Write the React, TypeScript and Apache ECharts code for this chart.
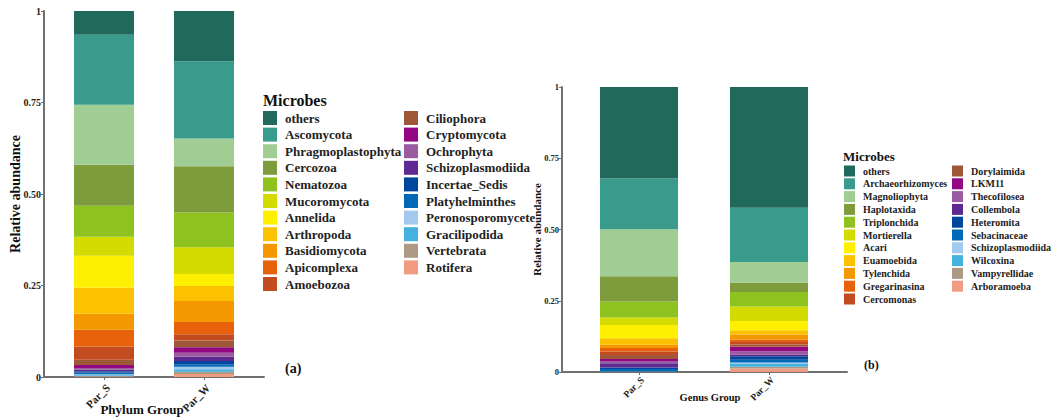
import React, { useEffect, useRef } from "react";
import * as echarts from "echarts";

const groups = ["Par_S", "Par_W"];

const phylumNames = [
  "others", "Ascomycota", "Phragmoplastophyta", "Cercozoa", "Nematozoa", "Mucoromycota",
  "Annelida", "Arthropoda", "Basidiomycota", "Apicomplexa", "Amoebozoa",
  "Ciliophora", "Cryptomycota", "Ochrophyta", "Schizoplasmodiida", "Incertae_Sedis",
  "Platyhelminthes", "Peronosporomycete", "Gracilipodida", "Vertebrata", "Rotifera",
];
const phylumParS = [
  0.066, 0.191, 0.164, 0.112, 0.085, 0.052, 0.087, 0.071, 0.044, 0.046, 0.036,
  0.0145, 0.008, 0.005, 0.0035, 0.004, 0.0045, 0.002, 0.002, 0.002, 0.0015,
];
const phylumParW = [
  0.139, 0.211, 0.076, 0.126, 0.095, 0.073, 0.033, 0.041, 0.057, 0.034, 0.017,
  0.018, 0.015, 0.011, 0.012, 0.009, 0.0066, 0.007, 0.0066, 0.0063, 0.008,
];

const genusNames = [
  "others", "Archaeorhizomyces", "Magnoliophyta", "Haplotaxida", "Triplonchida", "Mortierella",
  "Acari", "Euamoebida", "Tylenchida", "Gregarinasina", "Cercomonas",
  "Dorylaimida", "LKM11", "Thecofilosea", "Collembola", "Heteromita",
  "Sebacinaceae", "Schizoplasmodiida", "Wilcoxina", "Vampyrellidae", "Arboramoeba",
];
const genusParS = [
  0.321, 0.178, 0.165, 0.089, 0.056, 0.026, 0.047, 0.022, 0.012, 0.012, 0.012,
  0.014, 0.007, 0.008, 0.015, 0.0056, 0.0084, 0.0005, 0.0005, 0.0005, 0.0005,
];
const genusParW = [
  0.426, 0.191, 0.072, 0.033, 0.051, 0.051, 0.032, 0.015, 0.018, 0.008, 0.0095,
  0.008, 0.015, 0.012, 0.006, 0.012, 0.0095, 0.0056, 0.0095, 0.006, 0.0126,
];

const palette = [
  "#20695c", "#389b8b", "#9fcd93", "#7f9c3d", "#8dc21f", "#d3db00",
  "#ffef00", "#fcc100", "#f39800", "#e7620a", "#c24c20",
  "#9f573a", "#930783", "#9a5ba0", "#5e2a91", "#00469c",
  "#0068b7", "#a3c9ee", "#45b1de", "#ac9a84", "#f19c82",
];

const yTicks = ["0", "0.25", "0.50", "0.75", "1"];

const FONT = "Liberation Serif";
const AXIS_COLOR = "#707070";

function buildSeries(names: string[], s: number[], w: number[], stack: string, axis: number, barWidth: number) {
  const out: any[] = [];
  for (let i = names.length - 1; i >= 0; i--) {
    out.push({
      type: "bar",
      name: names[i],
      stack,
      xAxisIndex: axis,
      yAxisIndex: axis,
      barWidth,
      itemStyle: { color: palette[i] },
      data: [s[i], w[i]],
    });
  }
  return out;
}

function legendData(names: string[], from: number, to: number) {
  return names.slice(from, to).map((n, k) => ({ name: n, itemStyle: { color: palette[from + k] } }));
}

function tickFmt(v: number) {
  return yTicks[Math.round(v * 4)] ?? "";
}

export default function App() {
  const ref = useRef<HTMLDivElement>(null);
  useEffect(() => {
    document.body.style.margin = "0";
    if (!ref.current) return;
    const chart = echarts.init(ref.current, undefined, { renderer: "svg" });
    const frameX = (grid: number) => ({
      type: "value", gridIndex: grid, min: 0, max: 1,
      axisLine: { show: true, lineStyle: { color: AXIS_COLOR, width: 2 } },
      axisTick: { show: false }, axisLabel: { show: false }, splitLine: { show: false },
    });
    const frameY = (grid: number) => ({
      type: "value", gridIndex: grid, min: 0, max: 1,
      axisLine: { show: false }, axisTick: { show: false }, axisLabel: { show: false }, splitLine: { show: false },
    });
    const barY = (grid: number, offset: number, fs: number, nameFs: number, nameGap: number) => ({
      type: "value", gridIndex: grid, min: 0, max: 1, interval: 0.25, offset,
      name: "Relative abundance", nameLocation: "middle", nameGap, nameMoveOverlap: false,
      nameTextStyle: { fontFamily: FONT, fontWeight: "bold", fontSize: nameFs, color: "#111" },
      axisLine: { show: true, lineStyle: { color: AXIS_COLOR, width: 2 } },
      axisTick: { show: true, length: 3, lineStyle: { color: AXIS_COLOR } },
      axisLabel: { formatter: tickFmt, margin: 3, fontFamily: FONT, fontWeight: "bold", fontSize: fs, color: "#222" },
      splitLine: { show: false },
    });
    const catX = (grid: number, name: string, fs: number, nameFs: number, nameGap: number, namePad: number[], margin: number) => ({
      type: "category", gridIndex: grid, data: groups,
      name, nameLocation: "middle", nameGap, nameMoveOverlap: false,
      nameTextStyle: { fontFamily: FONT, fontWeight: "bold", fontSize: nameFs, color: "#111", padding: namePad },
      axisLine: { show: false, onZero: false },
      axisTick: { show: true, alignWithLabel: true, length: 3, lineStyle: { color: AXIS_COLOR } },
      axisLabel: {
        rotate: 45, margin, align: "right", verticalAlign: "top",
        fontFamily: FONT, fontWeight: "bold", fontSize: fs, color: "#222",
      },
    });
    const legend = (left: number, top: number, data: any[], size: number, gap: number, fs: number) => ({
      orient: "vertical", left, top, padding: 0, icon: "rect",
      itemWidth: size, itemHeight: size, itemGap: gap, selectedMode: false,
      textStyle: { fontFamily: FONT, fontWeight: "bold", fontSize: fs, lineHeight: size, color: "#222", padding: [0, 0, 0, 3] },
      data,
    });
    const titleText = (text: string, left: number, top: number, fs: number) => ({
      text, left, top, padding: 0,
      textStyle: { fontFamily: FONT, fontWeight: "bold", fontSize: fs, color: "#111" },
    });
    const grid = (left: number, top: number, width: number, height: number) => ({
      left, top, width, height, containLabel: false, outerBoundsMode: "none",
    });
    const option: any = {
      animation: false,
      title: [
        titleText("Microbes", 263, 92, 16),
        titleText("(a)", 285, 361, 14),
        titleText("Microbes", 843, 150, 13),
        titleText("(b)", 864, 359, 12),
      ],
      grid: [
        grid(44, 11, 220, 366),
        grid(54, 11, 200, 366),
        grid(562, 87, 285, 285),
        grid(574, 87, 260, 285),
      ],
      xAxis: [
        frameX(0),
        catX(1, "Phylum Group", 11, 13, 26, [0, 24, 0, 0], 5),
        frameX(2),
        catX(3, "Genus Group", 9.5, 10.5, 20, [0, 0, 0, 12], 3),
      ],
      yAxis: [
        frameY(0),
        barY(1, 10, 10, 14, 22),
        frameY(2),
        barY(3, 12, 8.5, 11, 20),
      ],
      legend: [
        legend(263, 111, legendData(phylumNames, 0, 11), 14, 2.6, 13),
        legend(404, 111, legendData(phylumNames, 11, 21), 14, 2.6, 13),
        legend(844, 165.5, legendData(genusNames, 0, 11), 11, 1.8, 10),
        legend(952, 165.5, legendData(genusNames, 11, 21), 11, 1.8, 10),
      ],
      series: [
        ...buildSeries(phylumNames, phylumParS, phylumParW, "phylum", 1, 60),
        ...buildSeries(genusNames, genusParS, genusParW, "genus", 3, 78),
      ],
    };
    chart.setOption(option);
    return () => chart.dispose();
  }, []);
  return <div ref={ref} style={{ width: 1051, height: 419 }} />;
}
